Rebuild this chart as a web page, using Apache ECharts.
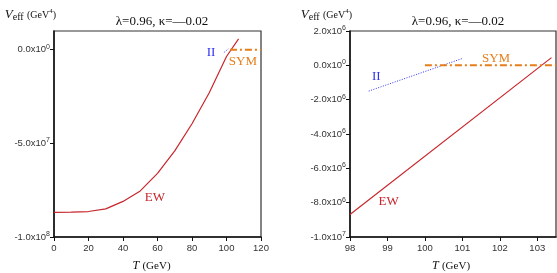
<!DOCTYPE html>
<html><head><meta charset="utf-8">
<script src="https://cdn.jsdelivr.net/npm/echarts@6/dist/echarts.min.js"></script>
<style>html,body{margin:0;padding:0;background:#fff}#c{width:557px;height:273px}</style>
</head><body><div id="c"></div>
<script>
// ---- data ----
const titleText = 'λ=0.96, κ=—0.02';
const leftEW_T = [0,10,20,30,40,50,60,70,80,90,100,107];
const leftEW_V = [-8.69e7,-8.67e7,-8.64e7,-8.5e7,-8.1e7,-7.54e7,-6.6e7,-5.4e7,-3.95e7,-2.3e7,-3.6e6,5.8e6];
const leftII_T = [98.5,101];
const leftII_V = [-1.5e6,0.4e6];
const leftSYM_T = [102,120];
const leftSYM_V = [0,0];
const rightEW_T = [98,103.38];
const rightEW_V = [-8.69e6,0.45e6];
const rightII_T = [98.5,101];
const rightII_V = [-1.5e6,0.4e6];
const rightSYM_T = [100,103.5];
const rightSYM_V = [0,0];
const leftXTicks = [0,20,40,60,80,100,120];
const leftYTicks = [0,-5e7,-1e8];
const rightXTicks = [98,99,100,101,102,103];
const rightYTicks = [2e6,0,-2e6,-4e6,-6e6,-8e6,-1e7];
const seriesNames = ['EW','II','SYM'];

const zip = (a,b)=>a.map((x,i)=>[x,b[i]]);
const RED='#c8262c', BLUE='#3030f0', ORANGE='#e67e1c';
const serif='"Liberation Serif","DejaVu Serif",serif';
const sans='"Liberation Sans",Arial,sans-serif';

function sci(v){
  if(v===0) return '0.0x10{sup|0}';
  const e=Math.floor(Math.log10(Math.abs(v))+1e-9);
  const m=(v/Math.pow(10,e)).toFixed(1);
  return m+'x10{sup|'+e+'}';
}
const labelRich={sup:{fontSize:7,fontFamily:sans,color:'#333',padding:[0,0,6,0]}};

function yAx(idx,min,max,ticks){
  return {gridIndex:idx,type:'value',min:min,max:max,
    axisLine:{show:true,lineStyle:{color:'#111',width:1.5}},
    axisTick:{show:true,length:4,customValues:ticks,lineStyle:{color:'#111'}},
    axisLabel:{customValues:ticks,formatter:sci,fontSize:9.5,fontFamily:sans,color:'#333',margin:4,rich:labelRich},
    splitLine:{show:false},
    name:'{v|V}{sub|eff} {u|(GeV}{s|4}{u|)}',nameLocation:'end',nameGap:9,
    nameTextStyle:{align:'right',verticalAlign:'bottom',padding:[0,-2,0,0],
      rich:{v:{fontFamily:serif,fontStyle:'italic',fontSize:13,color:'#111'},
            sub:{fontFamily:serif,fontSize:10,color:'#111',padding:[0,0,-5,0]},
            u:{fontFamily:serif,fontSize:10,color:'#111'},
            s:{fontFamily:serif,fontSize:7,color:'#111',padding:[0,0,7,0]}}}
  };
}
function xAx(idx,min,max,ticks,shift){
  return {gridIndex:idx,type:'value',min:min,max:max,
    axisLine:{show:true,onZero:false,lineStyle:{color:'#111',width:1.5}},
    axisTick:{show:true,length:4,customValues:ticks,lineStyle:{color:'#111'}},
    axisLabel:{customValues:ticks,fontSize:9.5,fontFamily:sans,color:'#333',margin:6},
    splitLine:{show:false},
    name:'{t|T} {u|(GeV)}',nameLocation:'middle',nameGap:23,
    nameTextStyle:{padding:[0,shift,0,0],rich:{t:{fontFamily:serif,fontStyle:'italic',fontSize:12,color:'#111'},
      u:{fontFamily:serif,fontSize:11,color:'#111'}}}
  };
}
function lbl(name,coord,color){
  return {markPoint:{symbol:'circle',symbolSize:0,silent:true,
    label:{show:true,position:'inside',formatter:name,fontFamily:serif,fontSize:13,color:color},
    data:[{coord:coord}]}};
}
function ser(idx,name,data,color,ltype,width,lcoord){
  return Object.assign({type:'line',name:name,xAxisIndex:idx,yAxisIndex:idx,data:data,
    showSymbol:false,symbol:'none',animation:false,z:idx,
    lineStyle:{color:color,width:width,type:ltype}},lbl(name,lcoord,color));
}

const chart=echarts.init(document.getElementById('c'),null,{renderer:'canvas'});
chart.setOption({
  animation:false,
  title:[
    {text:titleText,left:157,top:10,textAlign:'center',textStyle:{fontFamily:serif,fontSize:13,fontWeight:'normal',color:'#111'}},
    {text:titleText,left:453,top:10,textAlign:'center',textStyle:{fontFamily:serif,fontSize:13,fontWeight:'normal',color:'#111'}}
  ],
  grid:[
    {left:54,right:296,top:31,bottom:36,containLabel:false,outerBoundsMode:'none',show:true,borderColor:'#333',borderWidth:1.2,backgroundColor:'transparent'},
    {left:350,right:1,top:31,bottom:36,containLabel:false,outerBoundsMode:'none',show:true,borderColor:'#333',borderWidth:1.2,backgroundColor:'transparent'}
  ],
  xAxis:[xAx(0,0,120,leftXTicks,12),xAx(1,98,103.5,rightXTicks,4)],
  yAxis:[yAx(0,-1e8,1e7,leftYTicks),yAx(1,-1e7,2e6,rightYTicks)],
  series:[
    ser(0,seriesNames[0],zip(leftEW_T,leftEW_V),RED,'solid',1.2,[58.5,-7.9e7]),
    ser(0,seriesNames[1],zip(leftII_T,leftII_V),BLUE,[1,1.5],1,[91,-1.4e6]),
    ser(0,seriesNames[2],zip(leftSYM_T,leftSYM_V),ORANGE,[7,3,2,3],2,[109.5,-6.5e6]),
    ser(1,seriesNames[0],zip(rightEW_T,rightEW_V),RED,'solid',1.2,[99.03,-7.91e6]),
    ser(1,seriesNames[1],zip(rightII_T,rightII_V),BLUE,[1,1.5],1,[98.7,-0.64e6]),
    ser(1,seriesNames[2],zip(rightSYM_T,rightSYM_V),ORANGE,[7,3,2,3],2,[101.9,0.41e6])
  ]
});
</script></body></html>
